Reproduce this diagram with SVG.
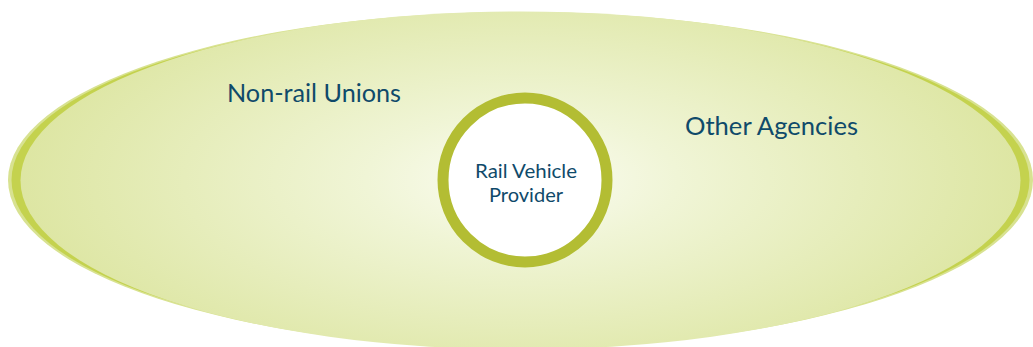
<svg xmlns="http://www.w3.org/2000/svg" width="1033" height="347" viewBox="0 0 1033 347">
<defs>
<radialGradient id="fillG" cx="522" cy="180" r="520" gradientUnits="userSpaceOnUse" gradientTransform="translate(522 180) scale(1 0.42) translate(-522 -180)">
<stop offset="0" stop-color="#fbfcf2"/>
<stop offset="0.3" stop-color="#f0f5d6"/>
<stop offset="1" stop-color="#dce5a0"/>
</radialGradient>
<clipPath id="clipAll"><rect x="0" y="0" width="1033" height="347"/></clipPath>
</defs>
<style>
.lbl{font-family:Lato,"Open Sans",sans-serif;fill:#0f4a6a}
</style>
<g id="outer" clip-path="url(#clipAll)">
<ellipse cx="520.5" cy="180" rx="512.5" ry="168" fill="#d8e291"/>
<ellipse cx="520.5" cy="180" rx="509" ry="167" fill="#c4d24e"/>
<ellipse cx="520.5" cy="180.5" rx="500" ry="169" fill="url(#fillG)"/>
</g>
<g id="center">
<circle cx="525" cy="180" r="82" fill="#ffffff" stroke="#b3bd33" stroke-width="11"/>
<text class="lbl" x="526" y="178" text-anchor="middle" font-size="20" textLength="102" lengthAdjust="spacingAndGlyphs">Rail Vehicle</text>
<text class="lbl" x="526" y="202" text-anchor="middle" font-size="20" textLength="74" lengthAdjust="spacingAndGlyphs">Provider</text>
</g>
<g id="nonrail">
<text class="lbl" x="227" y="102" font-size="25" textLength="174" lengthAdjust="spacingAndGlyphs">Non-rail Unions</text>
</g>
<g id="other">
<text class="lbl" x="685" y="135" font-size="25" textLength="173" lengthAdjust="spacingAndGlyphs">Other Agencies</text>
</g>
<g id="connectors"/>
</svg>
